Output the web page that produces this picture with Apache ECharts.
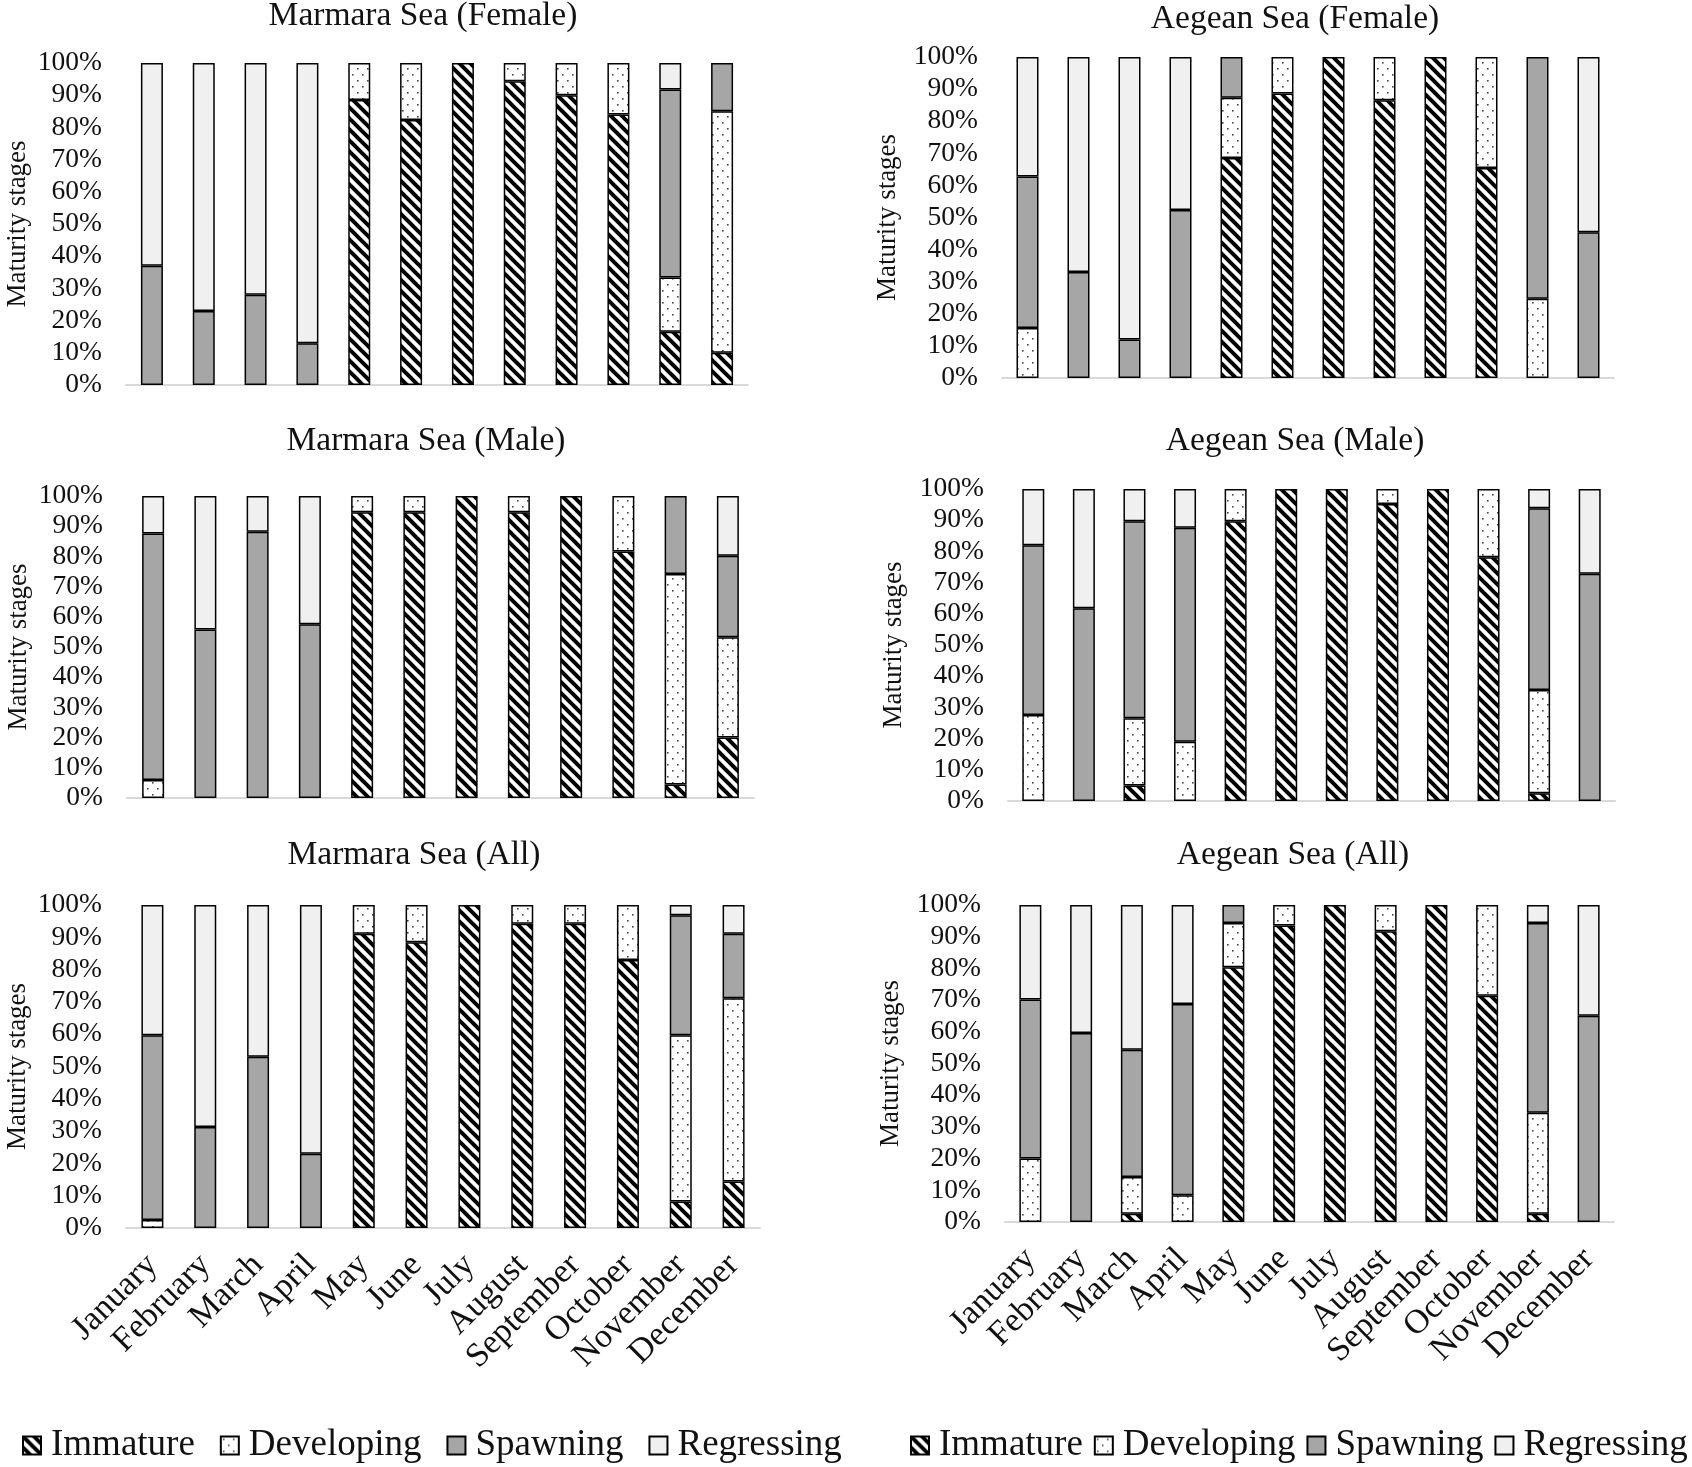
<!DOCTYPE html>
<html>
<head>
<meta charset="utf-8">
<script src="https://cdn.jsdelivr.net/npm/echarts@6/dist/echarts.min.js"></script>
<style>
html,body{margin:0;padding:0;background:#fff;}
#c{width:1692px;height:1467px;}
</style>
</head>
<body>
<div id="c"></div>
<script>
const months = ['January','February','March','April','May','June','July','August','September','October','November','December'];
const stages = ['Immature','Developing','Spawning','Regressing'];
const yTicks = [0,10,20,30,40,50,60,70,80,90,100];

// Marmara Sea (Female)
const mfImmature   = [0,0,0,0,88.5,82.3,100,94.3,90,84,16.5,10];
const mfDeveloping = [0,0,0,0,11.5,17.7,0,5.7,10,16,16.9,75];
const mfSpawning   = [37,23,28,13,0,0,0,0,0,0,58.4,15];
const mfRegressing = [63,77,72,87,0,0,0,0,0,0,8.2,0];
// Aegean Sea (Female)
const afImmature   = [0,0,0,0,68.5,88.6,100,86.5,100,65.4,0,0];
const afDeveloping = [15.6,0,0,0,18.8,11.4,0,13.5,0,34.6,24.7,0];
const afSpawning   = [47.2,33,12,52.3,12.7,0,0,0,0,0,75.3,45.4];
const afRegressing = [37.2,67,88,47.7,0,0,0,0,0,0,0,54.6];
// Marmara Sea (Male)
const mmImmature   = [0,0,0,0,94.6,94.6,100,94.6,100,81.6,4.5,20];
const mmDeveloping = [6,0,0,0,5.4,5.4,0,5.4,0,18.4,69.7,33.2];
const mmSpawning   = [81.6,55.8,88.2,57.5,0,0,0,0,0,0,25.8,27];
const mmRegressing = [12.4,44.2,11.8,42.5,0,0,0,0,0,0,0,19.8];
// Aegean Sea (Male)
const amImmature   = [0,0,5,0,89.7,100,100,95.2,100,78.1,2.5,0];
const amDeveloping = [27.6,0,21.5,19,10.3,0,0,4.8,0,21.9,33.1,0];
const amSpawning   = [54.4,61.8,63.2,68.6,0,0,0,0,0,0,58.2,72.8];
const amRegressing = [18,38.2,10.3,12.4,0,0,0,0,0,0,6.2,27.2];
// Marmara Sea (All)
const maImmature   = [0,0,0,0,91.1,88.5,100,94.2,94.2,83,8.2,14.4];
const maDeveloping = [2.5,0,0,0,8.9,11.5,0,5.8,5.8,17,51.5,56.7];
const maSpawning   = [57.2,31.3,53,23,0,0,0,0,0,0,37.1,20];
const maRegressing = [40.3,68.7,47,77,0,0,0,0,0,0,3.2,8.9];
// Aegean Sea (All)
const aaImmature   = [0,0,2.6,0,80.4,93.5,100,91.7,100,71.4,2.6,0];
const aaDeveloping = [20,0,11.6,8.4,13.9,6.5,0,8.3,0,28.6,31.9,0];
const aaSpawning   = [50.2,59.6,40.1,60.4,5.7,0,0,0,0,0,59.8,65.1];
const aaRegressing = [29.8,40.4,45.7,31.2,0,0,0,0,0,0,5.7,34.9];

const panels = [
  {title:'Marmara Sea (Female)', data:[mfImmature,mfDeveloping,mfSpawning,mfRegressing]},
  {title:'Aegean Sea (Female)',  data:[afImmature,afDeveloping,afSpawning,afRegressing]},
  {title:'Marmara Sea (Male)',   data:[mmImmature,mmDeveloping,mmSpawning,mmRegressing]},
  {title:'Aegean Sea (Male)',    data:[amImmature,amDeveloping,amSpawning,amRegressing]},
  {title:'Marmara Sea (All)',    data:[maImmature,maDeveloping,maSpawning,maRegressing]},
  {title:'Aegean Sea (All)',     data:[aaImmature,aaDeveloping,aaSpawning,aaRegressing]}
];

// layout (pixels)
const grids = [
  {left:126, top:63,  width:622, height:322},
  {left:1002,top:57,  width:612, height:321},
  {left:127, top:496, width:627, height:302},
  {left:1008,top:489, width:607, height:312},
  {left:126, top:905, width:634, height:323},
  {left:1005,top:905, width:609, height:317}
];
const titlePos = [[423,-1],[1295,2],[426,424],[1295,424],[414,838],[1293,838]];
const showMonths = [false,false,false,false,true,true];

const FONT = '"Liberation Serif","Times New Roman",serif';
const INK = '#111';

function hatchPattern(){
  const c = document.createElement('canvas');
  c.width = 11; c.height = 11;
  const g = c.getContext('2d');
  g.fillStyle = '#fff'; g.fillRect(0,0,11,11);
  g.strokeStyle = '#000'; g.lineWidth = 4;
  for (let k=-1;k<=1;k++){
    g.beginPath(); g.moveTo(k*11-2,-2); g.lineTo(k*11+13,13); g.stroke();
  }
  return c;
}
function dotPattern(){
  const c = document.createElement('canvas');
  c.width = 10; c.height = 12;
  const g = c.getContext('2d');
  g.fillStyle = '#fff'; g.fillRect(0,0,10,12);
  g.fillStyle = '#444';
  g.fillRect(2,2,1.6,1.6);
  g.fillRect(7,8,1.6,1.6);
  return c;
}
const stageFill = [
  {image: hatchPattern(), repeat:'repeat'},
  {image: dotPattern(), repeat:'repeat'},
  '#a6a6a6',
  '#f0f0f0'
];

const legendText = {fontFamily:FONT, fontSize:37, color:INK, padding:[0,0,0,5]};

const option = {
  animation:false,
  backgroundColor:'#fff',
  grid: grids.map(g=>Object.assign({containLabel:false}, g)),
  xAxis: grids.map((g,i)=>({
    type:'category', gridIndex:i, data:months,
    axisLine:{show:true, lineStyle:{color:'#d9d9d9', width:2}},
    axisTick:{show:false},
    axisLabel:{show:showMonths[i], interval:0, rotate:45, margin:32,
      fontFamily:FONT, fontSize:34, color:INK}
  })),
  yAxis: grids.map((g,i)=>({
    type:'value', gridIndex:i, min:0, max:100, interval:10,
    axisLine:{show:false}, axisTick:{show:false}, splitLine:{show:false},
    axisLabel:{margin:24, fontFamily:FONT, fontSize:27.5, color:INK,
      formatter: v => yTicks.indexOf(v) >= 0 ? v + '%' : ''},
    name:'Maturity stages', nameLocation:'middle', nameGap: (i%2===0)?95:101,
    nameTextStyle:{fontFamily:FONT, fontSize:27, color:INK}
  })),
  legend: [
    {left:22, top:1427, width:830, padding:0, itemGap:25, itemWidth:18, itemHeight:18, icon:'rect',
     selectedMode:false, data:stages, textStyle:legendText},
    {left:910, top:1427, width:790, padding:0, itemGap:11, itemWidth:18, itemHeight:18, icon:'rect',
     selectedMode:false, data:stages, textStyle:legendText}
  ],
  graphic: panels.map((p,i)=>({
    type:'text', x:titlePos[i][0], y:titlePos[i][1], silent:true,
    style:{text:p.title, fill:INK, fontFamily:FONT, fontSize:33.5,
      align:'center', verticalAlign:'top'}
  })),
  series: []
};

panels.forEach((p,i)=>{
  p.data.forEach((arr,s)=>{
    option.series.push({
      type:'bar', name:stages[s], xAxisIndex:i, yAxisIndex:i,
      stack:'p'+i, barWidth:22,
      data: arr.map(v => v === 0 ? '-' : v),
      itemStyle:{color:stageFill[s], borderColor:'#000', borderWidth:1.5},
      emphasis:{disabled:true}
    });
  });
});

const chart = echarts.init(document.getElementById('c'));
chart.setOption(option);
</script>
</body>
</html>
